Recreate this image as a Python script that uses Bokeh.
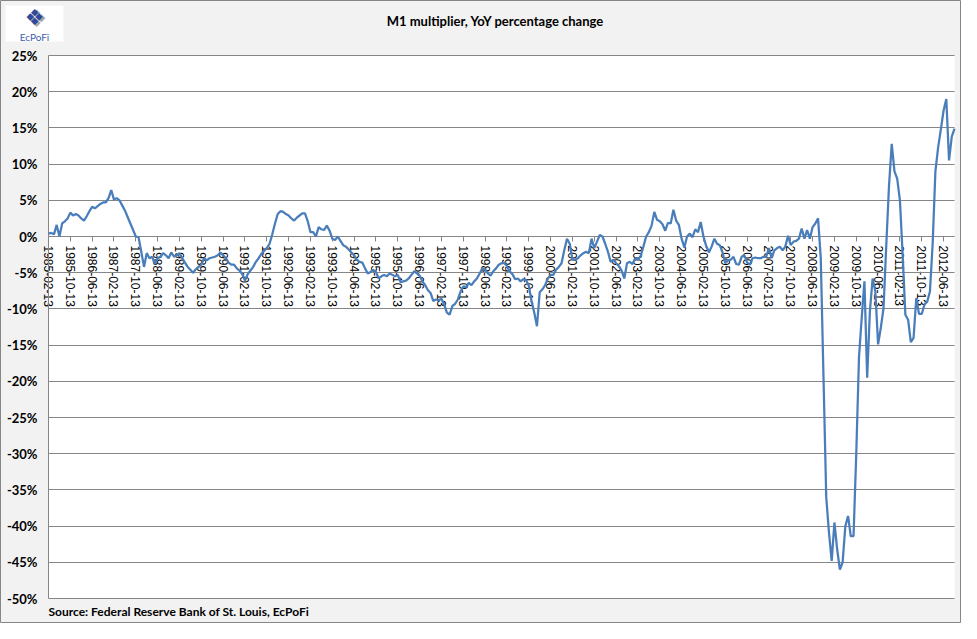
from bokeh.plotting import figure
from bokeh.models import Range1d, FixedTicker, PrintfTickFormatter, Label, BoxAnnotation
from bokeh.embed import file_html
from bokeh.resources import INLINE

# ---- data (monthly, starting 1985-02-13), YoY % change of the M1 multiplier ----
values_1985_1990 = [0.4, 0.5, 0.3, 1.6, 0.0, 1.8, 2.1, 2.5, 3.3, 2.9, 3.1, 2.9, 2.5, 2.2, 2.8, 3.5,
                    4.1, 3.9, 4.2, 4.5, 4.7, 4.7, 5.3, 6.4, 5.1, 5.3, 5.0, 4.3, 3.6, 2.7, 1.8, 0.9,
                    0.0, -0.1, -2.1, -4.2, -2.3, -3.0, -2.8, -3.8, -3.0, -2.8, -2.3, -2.6, -3.0, -2.2,
                    -2.8, -2.6, -2.3, -3.0, -3.6, -4.2, -4.6, -5.0, -4.5, -4.2, -3.9, -3.0, -3.3, -3.0,
                    -2.9, -2.8, -2.6, -2.2, -2.6, -3.0, -3.6, -3.9]
values_1990_1996 = [-3.9, -4.4, -4.7, -5.2, -6.1, -5.2, -4.7, -4.2, -3.5, -3.0, -2.4, -2.0, -1.6, -1.0,
                    0.3, 1.8, 3.1, 3.5, 3.4, 3.1, 2.9, 2.5, 2.2, 2.6, 2.9, 3.2, 3.2, 2.1, 0.6, 0.6,
                    0.0, 1.3, 1.0, 0.9, 1.5, 0.8, -0.3, -0.5, 0.0, -0.6, -1.2, -1.4, -1.8, -2.2, -2.6,
                    -3.2, -3.5, -3.6, -4.4, -5.1, -4.9, -4.6, -4.9, -5.8, -5.5, -5.3, -5.5, -5.1, -5.3,
                    -5.5, -5.3, -6.3, -6.2, -6.1, -5.8, -5.3, -4.8, -5.1]
values_1996_2001 = [-5.4, -6.2, -6.7, -7.4, -7.8, -8.9, -8.7, -8.8, -8.6, -9.4, -10.5, -10.8, -9.6, -9.3,
                    -8.7, -7.6, -6.9, -7.0, -6.4, -6.7, -6.2, -5.8, -5.1, -4.4, -4.6, -5.1, -5.4, -4.8,
                    -4.4, -3.9, -3.7, -3.6, -4.1, -4.8, -5.2, -5.9, -5.8, -6.2, -5.9, -6.0, -6.8, -8.9,
                    -10.5, -12.4, -7.7, -7.3, -6.7, -5.8, -5.3, -5.3, -4.6, -4.2, -3.7, -1.9, -0.3, -1.0,
                    -3.2, -3.2, -3.0, -2.6, -2.3, -2.1, -2.3, -0.3, -1.6, -0.7, 0.2]
values_2001_2007 = [0.0, -1.0, -2.1, -3.5, -3.2, -3.7, -4.1, -4.7, -5.8, -3.7, -3.5, -3.8, -3.0, -3.2,
                    -2.7, -1.4, 0.0, 0.6, 1.5, 3.4, 2.3, 2.1, 1.7, 0.8, 1.9, 1.8, 3.7, 2.2, 1.6, -0.3,
                    -1.5, 0.0, 0.4, -0.1, 1.0, 0.6, 2.0, 0.0, -1.3, -2.2, -1.4, -0.3, -1.0, -1.2, -2.2,
                    -3.7, -3.3, -3.2, -2.8, -3.8, -3.9, -2.8, -2.6, -3.6, -3.9, -3.0, -2.9, -3.0, -3.0,
                    -2.8, -2.8, -1.6, -3.0, -1.9, -1.6, -1.4, -1.9]
values_2007_2012 = [-1.4, 0.1, -1.2, -0.7, -0.6, -0.3, 1.1, -0.3, 0.9, -0.3, 1.3, 1.8, 2.5, -3.0,
                    -19.5, -36.0, -40.9, -44.8, -39.5, -43.2, -46.0, -45.0, -40.0, -38.6, -41.4, -41.4,
                    -30.0, -16.7, -11.2, -6.2, -19.5, -10.3, -5.8, -7.6, -14.9, -12.6, -9.9, -1.2,
                    7.0, 12.8, 9.0, 8.0, 5.0, -2.5, -10.8, -11.5, -14.6, -14.0, -8.5, -10.7, -10.7,
                    -9.4, -9.0, -7.6, -1.0, 9.0, 12.3, 14.8, 17.4, 19.0, 10.5, 13.8, 14.9]

values = values_1985_1990 + values_1990_1996 + values_1996_2001 + values_2001_2007 + values_2007_2012
months = list(range(len(values)))

tick_labels = ["1985-02-13", "1985-10-13", "1986-06-13", "1987-02-13", "1987-10-13", "1988-06-13",
               "1989-02-13", "1989-10-13", "1990-06-13", "1991-02-13", "1991-10-13", "1992-06-13",
               "1993-02-13", "1993-10-13", "1994-06-13", "1995-02-13", "1995-10-13", "1996-06-13",
               "1997-02-13", "1997-10-13", "1998-06-13", "1999-02-13", "1999-10-13", "2000-06-13",
               "2001-02-13", "2001-10-13", "2002-06-13", "2003-02-13", "2003-10-13", "2004-06-13",
               "2005-02-13", "2005-10-13", "2006-06-13", "2007-02-13", "2007-10-13", "2008-06-13",
               "2009-02-13", "2009-10-13", "2010-06-13", "2011-02-13", "2011-10-13", "2012-06-13"]
tick_positions = list(range(0, 8 * len(tick_labels), 8))
y_ticks = list(range(-50, 26, 5))
Y_MIN, Y_MAX = -50, 25

title_text = "M1 multiplier, YoY percentage change"
source_text = "Source: Federal Reserve Bank of St. Louis, EcPoFi"

# ---- layout (pixels inside the figure, measured from top-left) ----
W, H = 961, 623
PLOT_L, PLOT_R, PLOT_T, PLOT_B = 48, 954, 55, 598
X_LAST = len(values) - 1
kx = (PLOT_R - PLOT_L) / X_LAST
ky = (PLOT_B - PLOT_T) / (Y_MAX - Y_MIN)
x_range = Range1d(-PLOT_L / kx, X_LAST + (W - PLOT_R) / kx)
y_range = Range1d(Y_MIN - (H - PLOT_B) / ky, Y_MAX + PLOT_T / ky)

GRID = "#868686"
LINE = "#4A7EBB"
BG = "#F2F2F2"

p = figure(width=W, height=H, output_backend="svg", toolbar_location=None,
           x_range=x_range, y_range=y_range,
           min_border=0, min_border_left=0, min_border_right=0, min_border_top=0, min_border_bottom=0)
p.border_fill_color = BG
p.background_fill_color = BG
p.outline_line_color = GRID
p.xgrid.visible = False
p.ygrid.visible = False

# white plot area
p.add_layout(BoxAnnotation(left=0, right=X_LAST, bottom=Y_MIN, top=Y_MAX, fill_color="white",
                           fill_alpha=1, line_color=None, level="image"))

# y axis at the first category, its ticks drawn across the plot as gridlines
p.yaxis.fixed_location = 0
p.yaxis.bounds = (Y_MIN, Y_MAX)
p.yaxis.ticker = FixedTicker(ticks=y_ticks)
p.yaxis.formatter = PrintfTickFormatter(format="%d%%")
p.yaxis.axis_line_color = GRID
p.yaxis.major_tick_line_color = GRID
p.yaxis.major_tick_in = PLOT_R - PLOT_L
p.yaxis.major_tick_out = 0
p.yaxis.minor_tick_line_color = None
p.yaxis.major_label_standoff = 11
p.yaxis.major_label_text_font = "Lato"
p.yaxis.major_label_text_font_style = "bold"
p.yaxis.major_label_text_font_size = "13px"
p.yaxis.major_label_text_color = "black"

# x axis crossing at 0%
p.xaxis.fixed_location = 0
p.xaxis.bounds = (0, X_LAST)
p.xaxis.ticker = FixedTicker(ticks=tick_positions)
p.xaxis.major_label_overrides = {t: l for t, l in zip(tick_positions, tick_labels)}
p.xaxis.major_label_orientation = "vertical"
p.xaxis.axis_line_color = GRID
p.xaxis.major_tick_line_color = GRID
p.xaxis.major_tick_out = 5
p.xaxis.major_tick_in = 0
p.xaxis.minor_tick_line_color = None
p.xaxis.major_label_standoff = 4
p.xaxis.major_label_text_font = "Liberation Sans"
p.xaxis.major_label_text_font_size = "12px"
p.xaxis.major_label_text_color = "black"

r = p.line(months, values, line_color=LINE, line_width=2.25)
r.level = "overlay"

# title and source
p.add_layout(Label(x=495, y=H - 20, x_units="screen", y_units="screen", text=title_text,
                   text_align="center", text_baseline="middle", text_font="Lato",
                   text_font_style="bold", text_font_size="13px", text_color="black"))
p.add_layout(Label(x=PLOT_L, y=H - 611, x_units="screen", y_units="screen", text=source_text,
                   text_align="left", text_baseline="middle", text_font="Lato",
                   text_font_style="bold", text_font_size="12px", text_color="black"))

# logo
p.add_layout(BoxAnnotation(left=5, right=63, bottom=H - 41, top=H - 5, left_units="screen",
                           right_units="screen", bottom_units="screen", top_units="screen",
                           fill_color="white", fill_alpha=1, line_color=None))
p.add_layout(Label(x=36, y=H - 18, x_units="screen", y_units="screen", text="\u2756",
                   text_align="center", text_baseline="middle", text_font="DejaVu Sans",
                   text_font_size="24px", text_color="#A6A6A6"))
p.add_layout(Label(x=34, y=H - 17, x_units="screen", y_units="screen", text="\u2756",
                   text_align="center", text_baseline="middle", text_font="DejaVu Sans",
                   text_font_size="22px", text_color="#2E4A9E"))
p.add_layout(Label(x=34, y=H - 36, x_units="screen", y_units="screen", text="EcPoFi",
                   text_align="center", text_baseline="middle", text_font="Lato",
                   text_font_size="10px", text_color="#4060A8"))

open("out.html", "w").write(file_html(p, INLINE))
